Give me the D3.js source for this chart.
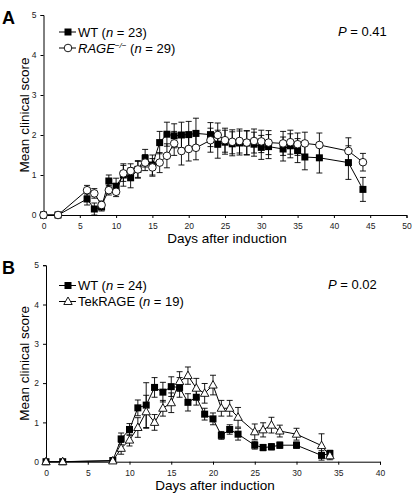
<!DOCTYPE html>
<html><head><meta charset="utf-8">
<script src="https://cdn.jsdelivr.net/npm/d3@7"></script>
<style>body{margin:0;background:#fff}svg{display:block;font-family:"Liberation Sans",Arial,sans-serif}</style>
</head><body><svg id="c" width="415" height="502"></svg>
<script>
// Panel A data
const daysA = [0,2,6,7,8,9,10,11,12,13,14,15,16,17,18,19,20,21,23,24,25,26,27,28,29,30,31,33,34,35,36,38,42,44];
const wtA   = [0,0,0.40,0.15,0.20,0.85,0.72,1.00,0.93,1.14,1.42,1.25,1.81,2.02,1.98,2.00,2.01,2.04,2.01,1.77,1.82,1.78,1.80,1.80,1.77,1.69,1.71,1.65,1.73,1.61,1.45,1.43,1.31,0.64];
const wtAerr= [0,0,0.15,0.15,0.10,0.15,0.20,0.28,0.25,0.22,0.22,0.25,0.28,0.30,0.30,0.32,0.33,0.38,0.30,0.35,0.30,0.30,0.30,0.30,0.30,0.30,0.30,0.30,0.30,0.30,0.32,0.38,0.42,0.30];
const ragA  = [0,0,0.62,0.54,0.25,0.62,0.58,1.04,1.10,1.14,1.31,1.19,1.31,1.48,1.79,1.60,1.65,1.68,1.87,2.00,1.87,1.83,1.85,1.81,1.85,1.84,1.81,1.79,1.82,1.77,1.79,1.75,1.60,1.32];
const ragAerr=[0,0,0.12,0.12,0.10,0.12,0.12,0.20,0.18,0.20,0.20,0.22,0.25,0.30,0.30,0.35,0.30,0.30,0.30,0.30,0.30,0.30,0.30,0.30,0.30,0.28,0.30,0.30,0.30,0.28,0.28,0.30,0.33,0.22];
// Panel B data
const daysB = [0,2,8,9,10,11,12,13,14,15,16,17,18,19,20,21,22,23,25,26,27,28,30,33,34];
const wtB   = [0,0,0.03,0.58,0.82,1.37,1.44,1.89,1.77,1.91,1.89,1.51,1.64,1.21,1.09,0.67,0.82,0.70,0.42,0.36,0.38,0.42,0.42,0.16,0.21];
const wtBerr= [0,0,0.02,0.15,0.15,0.20,0.57,0.25,0.25,0.25,0.25,0.22,0.20,0.15,0.15,0.10,0.12,0.15,0.10,0.08,0.08,0.08,0.08,0.12,0.08];
const tekB  = [0,0,0.02,0.34,0.55,0.87,1.27,1.00,1.36,1.50,2.04,2.19,1.87,1.74,1.95,1.36,1.36,1.13,0.76,0.81,0.93,0.78,0.70,0.41,0.15];
const tekBerr=[0,0,0.02,0.15,0.15,0.25,0.42,0.20,0.20,0.25,0.25,0.22,0.25,0.25,0.25,0.20,0.20,0.25,0.20,0.18,0.20,0.15,0.15,0.30,0.10];
const yTicks = [0,1,2,3,4,5];

const svg = d3.select("#c");

function panel(cfg){
  const g = svg.append("g");
  const x = d3.scaleLinear().domain([0,cfg.xmax]).range([cfg.x0,cfg.x1]);
  const y = d3.scaleLinear().domain([0,5]).range([cfg.y0,cfg.y1]);
  const xa = g.append("g").attr("transform",`translate(0,${cfg.y0})`)
    .call(d3.axisBottom(x).tickValues(d3.range(0,cfg.xmax+1,5)).tickFormat(d3.format("d")).tickSize(3).tickPadding(5));
  const ya = g.append("g").attr("transform",`translate(${cfg.x0},0)`)
    .call(d3.axisLeft(y).tickValues(yTicks).tickFormat(d3.format("d")).tickSize(3).tickPadding(4));
  [xa,ya].forEach(a=>{a.select(".domain").attr("stroke","#000").attr("stroke-width",1);
    a.selectAll("line").attr("stroke","#000");
    a.selectAll("text").attr("font-size",8.5).attr("fill","#222").attr("font-family","Liberation Sans, Arial");});
  g.append("text").attr("x",(cfg.x0+cfg.x1)/2+2).attr("y",cfg.y0+28).attr("text-anchor","middle")
    .attr("font-size",13.5).text("Days after induction");
  g.append("text").attr("transform",`translate(29,${(cfg.y0+cfg.y1)/2}) rotate(-90)`).attr("text-anchor","middle")
    .attr("font-size",13.5).text("Mean clinical score");
  g.append("text").attr("x",2).attr("y",cfg.y1+9).attr("font-size",18).attr("font-weight","bold").text(cfg.label);

  cfg.series.forEach(s=>{
    const pts = cfg.days.map((d,i)=>({d,v:s.vals[i],e:s.err[i]}));
    const eb = g.append("g").attr("stroke","#000").attr("stroke-width",0.9);
    pts.filter(p=>p.e>0.03).forEach(p=>{
      const px=x(p.d);
      eb.append("line").attr("x1",px).attr("x2",px).attr("y1",y(p.v+p.e)).attr("y2",y(p.v-p.e));
      eb.append("line").attr("x1",px-3).attr("x2",px+3).attr("y1",y(p.v+p.e)).attr("y2",y(p.v+p.e));
      eb.append("line").attr("x1",px-3).attr("x2",px+3).attr("y1",y(p.v-p.e)).attr("y2",y(p.v-p.e));
    });
    g.append("path").datum(pts).attr("fill","none").attr("stroke","#000").attr("stroke-width",1)
      .attr("d",d3.line().x(p=>x(p.d)).y(p=>y(p.v)));
    pts.forEach(p=>drawMarker(g,s.shape,x(p.d),y(p.v)));
  });
  cfg.series.forEach((s,i)=>{
    const ly = cfg.legY + i*16;
    g.append("line").attr("x1",cfg.legX).attr("x2",cfg.legX+17).attr("y1",ly).attr("y2",ly).attr("stroke","#000");
    drawMarker(g,s.shape,cfg.legX+9,ly);
    const t = g.append("text").attr("x",cfg.legX+19).attr("y",ly+4.5).attr("font-size",13);
    s.legend.forEach(part=>{
      const ts=t.append("tspan").text(part.t);
      if(part.i) ts.attr("font-style","italic");
      if(part.sup) ts.attr("font-size",8).attr("dy",-5);
      if(part.down) ts.attr("dy",5);
    });
  });
  const pt = g.append("text").attr("x",cfg.pX).attr("y",cfg.pY).attr("font-size",13);
  pt.append("tspan").attr("font-style","italic").text("P");
  pt.append("tspan").text(" = "+cfg.p);
}

function drawMarker(g,shape,cx,cy){
  if(shape==="square"){
    g.append("rect").attr("x",cx-3.5).attr("y",cy-3.5).attr("width",7).attr("height",7).attr("fill","#000");
  } else if(shape==="circle"){
    g.append("circle").attr("cx",cx).attr("cy",cy).attr("r",3.8).attr("fill","#fff").attr("stroke","#000").attr("stroke-width",0.9);
  } else {
    g.append("path").attr("d",`M${cx},${cy-4.5}L${cx+4.2},${cy+3}L${cx-4.2},${cy+3}Z`).attr("fill","#fff").attr("stroke","#000").attr("stroke-width",0.9);
  }
}

panel({label:"A",xmax:50,x0:43.5,x1:406.5,y0:215,y1:15,days:daysA,
  legX:59,legY:32,pX:338,pY:36,p:"0.41",
  series:[
    {shape:"square",vals:wtA,err:wtAerr,legend:[{t:"WT ("},{t:"n",i:true},{t:" = 23)"}]},
    {shape:"circle",vals:ragA,err:ragAerr,legend:[{t:"RAGE",i:true},{t:"−/−",i:true,sup:true},{t:" (",down:true},{t:"n",i:true},{t:" = 29)"}]}
  ]});
panel({label:"B",xmax:40,x0:46,x1:380,y0:461.7,y1:265.2,days:daysB,
  legX:59,legY:285.5,pX:328,pY:289,p:"0.02",
  series:[
    {shape:"square",vals:wtB,err:wtBerr,legend:[{t:"WT ("},{t:"n",i:true},{t:" = 24)"}]},
    {shape:"triangle",vals:tekB,err:tekBerr,legend:[{t:"TekRAGE ("},{t:"n",i:true},{t:" = 19)"}]}
  ]});
</script></body></html>
